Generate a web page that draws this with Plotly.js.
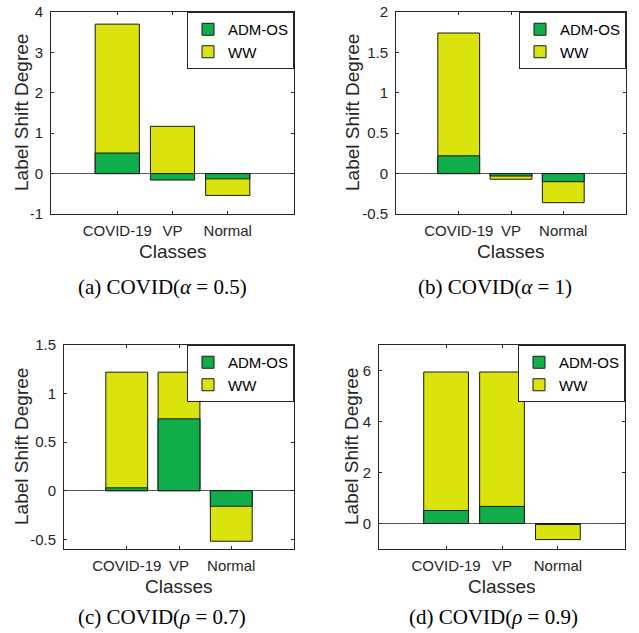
<!DOCTYPE html>
<html>
<head>
<meta charset="utf-8">
<script src="https://cdn.plot.ly/plotly-3.0.1.min.js"></script>
<style>html,body{margin:0;padding:0;background:#fff;}#chart{width:639px;height:633px;}</style>
</head>
<body>
<div id="chart"></div>
<script>
const categories = ['COVID-19', 'VP', 'Normal'];
const seriesNames = ['ADM-OS', 'WW'];

const wwA  = [3.70, 1.17, -0.54];
const admA = [0.51, -0.16, -0.13];
const wwB  = [1.74, -0.07, -0.36];
const admB = [0.22, -0.03, -0.10];
const wwC  = [1.22, 1.22, -0.52];
const admC = [0.03, 0.74, -0.16];
const wwD  = [5.94, 5.94, -0.63];
const admD = [0.51, 0.67, -0.04];

const yTickValsA = [-1, 0, 1, 2, 3, 4];
const yTickTextA = ['-1', '0', '1', '2', '3', '4'];
const yTickValsB = [-0.5, 0, 0.5, 1, 1.5, 2];
const yTickTextB = ['-0.5', '0', '0.5', '1', '1.5', '2'];
const yTickValsC = [-0.5, 0, 0.5, 1, 1.5];
const yTickTextC = ['-0.5', '0', '0.5', '1', '1.5'];
const yTickValsD = [0, 2, 4, 6];
const yTickTextD = ['0', '2', '4', '6'];

const captions = [
  '(a) COVID(<i>α</i> = 0.5)',
  '(b) COVID(<i>α</i> = 1)',
  '(c) COVID(<i>ρ</i> = 0.7)',
  '(d) COVID(<i>ρ</i> = 0.9)'
];
const xTitle = 'Classes';
const yTitle = 'Label Shift Degree';

const W = 639, H = 633;
const GREEN = '#10ad4b', YELLOW = '#dbe30d', EDGE = '#1a1a1a', AX = '#262626';
const SANS = 'Liberation Sans, Arial, sans-serif';

// panel boxes in px: [left, right, top, bottom]
const boxes = [[51, 294, 12, 214], [396, 626, 12, 214], [64, 294, 345, 549], [379, 625, 345, 549]];
const yRanges = [[-1, 4], [-0.5, 2], [-0.6, 1.5], [-1, 7]];
const yTickVals = [yTickValsA, yTickValsB, yTickValsC, yTickValsD];
const yTickTexts = [yTickTextA, yTickTextB, yTickTextC, yTickTextD];
const wwData = [wwA, wwB, wwC, wwD];
const admData = [admA, admB, admC, admD];
const yTitleX = [21, 352, 21, 351];
const captionPos = [[162, 287], [495, 287], [162, 617], [493, 617]];

const traces = [];
const layout = {
  width: W, height: H,
  margin: {l: 0, r: 0, t: 0, b: 0},
  paper_bgcolor: '#fff', plot_bgcolor: '#fff',
  barmode: 'overlay',
  font: {family: SANS, color: AX},
  annotations: []
};

for (let i = 0; i < 4; i++) {
  const n = i === 0 ? '' : String(i + 1);
  const [l, r, t, b] = boxes[i];
  const lg = i === 0 ? 'legend' : 'legend' + (i + 1);
  traces.push({
    type: 'bar', x: categories, y: wwData[i], name: seriesNames[1],
    xaxis: 'x' + n, yaxis: 'y' + n, width: 0.8,
    marker: {color: YELLOW, line: {color: EDGE, width: 1}},
    legend: lg, legendrank: 2, hoverinfo: 'skip'
  });
  traces.push({
    type: 'bar', x: categories, y: admData[i], name: seriesNames[0],
    xaxis: 'x' + n, yaxis: 'y' + n, width: 0.8,
    marker: {color: GREEN, line: {color: EDGE, width: 1}},
    legend: lg, legendrank: 1, hoverinfo: 'skip'
  });
  const common = {
    showline: true, linecolor: AX, linewidth: 1, mirror: 'ticks',
    ticks: 'inside', ticklen: 3, tickcolor: AX, tickwidth: 1,
    showgrid: false, fixedrange: true,
    tickfont: {family: SANS, size: 15, color: AX}
  };
  layout['xaxis' + n] = Object.assign({}, common, {
    domain: [l / W, r / W], anchor: 'y' + n,
    type: 'category', range: [-1.2, 3.2], zeroline: false,
    ticklabelstandoff: 3
  });
  layout['yaxis' + n] = Object.assign({}, common, {
    domain: [1 - b / H, 1 - t / H], anchor: 'x' + n,
    range: yRanges[i], tickvals: yTickVals[i], ticktext: yTickTexts[i],
    zeroline: true, zerolinecolor: '#555', zerolinewidth: 1,
    ticklabelstandoff: 4
  });
  layout[lg] = {
    x: r / W, xanchor: 'right', y: 1 - t / H, yanchor: 'top',
    xref: 'paper', yref: 'paper',
    bgcolor: '#fff', bordercolor: AX, borderwidth: 1,
    font: {family: SANS, size: 15, color: '#000'},
    tracegroupgap: 0, itemwidth: 30
  };
  layout.annotations.push({
    text: yTitle, textangle: -90, xref: 'paper', yref: 'paper',
    x: yTitleX[i] / W, y: 1 - ((t + b) / 2) / H, xanchor: 'center', yanchor: 'middle',
    showarrow: false, font: {family: SANS, size: 19, color: AX}
  });
  layout.annotations.push({
    text: xTitle, xref: 'paper', yref: 'paper',
    x: ((l + r) / 2) / W, y: 1 - (b + 37) / H, xanchor: 'center', yanchor: 'middle',
    showarrow: false, font: {family: SANS, size: 19, color: AX}
  });
  layout.annotations.push({
    text: captions[i], xref: 'paper', yref: 'paper',
    x: captionPos[i][0] / W, y: 1 - captionPos[i][1] / H, xanchor: 'center', yanchor: 'middle',
    showarrow: false, font: {family: 'Liberation Serif, Times New Roman, serif', size: 21, color: '#000'}
  });
}

Plotly.newPlot('chart', traces, layout, {staticPlot: true, displayModeBar: false});
</script>
</body>
</html>
